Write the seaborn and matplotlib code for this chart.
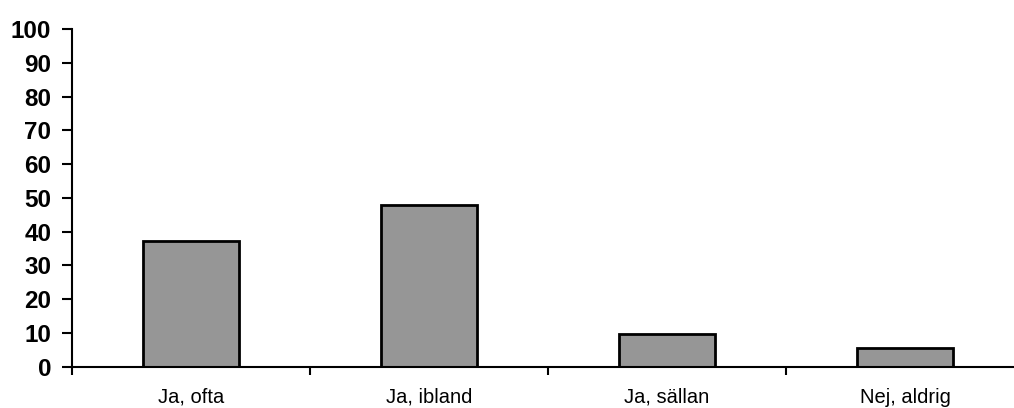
import matplotlib
matplotlib.use("Agg")
import matplotlib.pyplot as plt
import seaborn as sns
import pandas as pd

# Survey answers and their share in percent
categories = ["Ja, ofta", "Ja, ibland", "Ja, sällan", "Nej, aldrig"]
values = [37.1, 47.8, 9.7, 5.4]
y_ticks = [0, 10, 20, 30, 40, 50, 60, 70, 80, 90, 100]

sns.set_style("white")
plt.rcParams["font.family"] = ["Liberation Sans", "DejaVu Sans"]
plt.rcParams["text.color"] = "black"
plt.rcParams["xtick.color"] = "black"
plt.rcParams["ytick.color"] = "black"

df = pd.DataFrame({"svar": categories, "andel": values})

fig = plt.figure(figsize=(10.14, 4.08), dpi=100)
ax = fig.add_axes([72 / 1014, 1 - 366.7 / 408, (1024 - 72) / 1014, (366.7 - 29) / 408])

sns.barplot(data=df, x="svar", y="andel", ax=ax, color="#969696",
            edgecolor="black", linewidth=2.0, width=0.4, saturation=1)

ax.set_xlim(-0.5, len(categories) - 0.5)
ax.set_ylim(0, 100)
ax.set_yticks(y_ticks)
ax.set_yticklabels([str(t) for t in y_ticks], fontsize=17.5, fontweight="bold")
ax.set_xticks(range(len(categories)))
ax.set_xticklabels(categories, fontsize=14.5)
ax.set_xticks([i - 0.5 for i in range(len(categories) + 1)], minor=True)
ax.tick_params(axis="x", which="major", length=0, pad=15, bottom=True)
ax.tick_params(axis="x", which="minor", length=6, width=1.5, direction="out",
               color="black", bottom=True)
ax.tick_params(axis="y", length=7, width=1.5, direction="out", color="black",
               pad=8, left=True)
ax.set_xlabel("")
ax.set_ylabel("")

for side in ["top", "right"]:
    ax.spines[side].set_visible(False)
for side in ["left", "bottom"]:
    ax.spines[side].set_color("black")
    ax.spines[side].set_linewidth(1.5)

fig.savefig("out.png", dpi=100)
